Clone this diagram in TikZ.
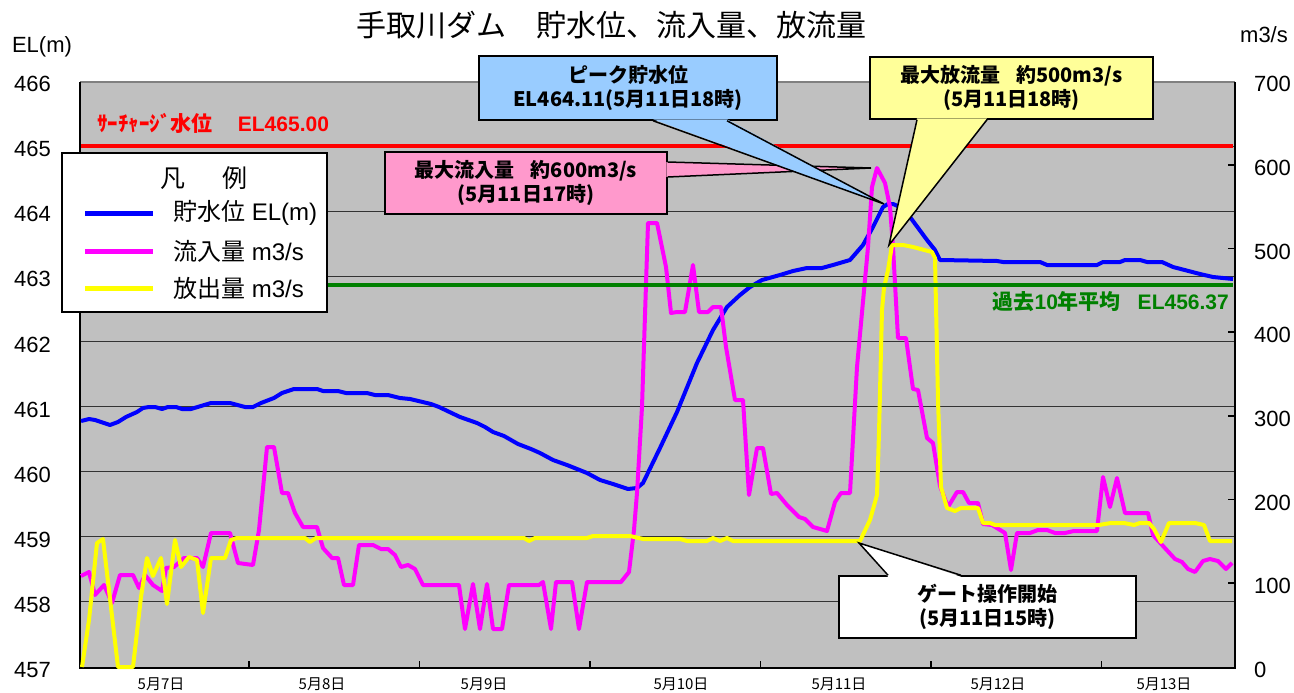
\documentclass[tikz,border=0pt]{standalone}
\usepackage{fontspec}
\setmainfont{Liberation Sans}
\newfontfamily\jp{Noto Sans CJK JP}
\usetikzlibrary{positioning,calc}

\definecolor{plotgray}{HTML}{C0C0C0}
\definecolor{levelblue}{HTML}{0000FF}
\definecolor{inflowpink}{HTML}{FF00FF}
\definecolor{outflowyellow}{HTML}{FFFF00}
\definecolor{avggreen}{HTML}{008000}
\definecolor{calloutblue}{HTML}{99CCFF}
\definecolor{calloutpink}{HTML}{FF99CC}
\definecolor{calloutyellow}{HTML}{FFFF99}

\begin{document}
\begin{tikzpicture}[x=1pt, y=-1pt,
    gridline/.style={black!80, line width=1pt},
    axisline/.style={black, line width=1.8pt},
    series/.style={line width=4pt, line join=round},
    ticklabel/.style={font=\fontsize{22}{26}\selectfont, inner sep=0pt},
    datelabel/.style={font=\jp\fontsize{15}{18}\selectfont, inner sep=0pt},
    callbox/.style={rectangle, draw, line width=1.5pt, align=center, inner sep=0pt,
        font=\jp\bfseries\fontsize{20}{24}\selectfont},
    pointer/.style={line width=1.5pt, line join=miter},
    lgtext/.style={font=\fontsize{24}{28}\selectfont, inner sep=0pt}
]
    \useasboundingbox (0,0) rectangle (1294,693);

    % Plot area
    \fill[plotgray] (80,82) rectangle (1235,667);
    \foreach \v in {458,...,465}
        \draw[gridline] (80,{667-(\v-457)*65.11}) -- (1235,{667-(\v-457)*65.11});
    \draw[gray, line width=1.5pt] (80,82) -- (1235,82);
    \draw[axisline] (80,82) -- (80,668) -- (1235,668) -- (1235,82);
    \foreach \x in {249,419.5,590,760.5,931,1101.5}
        \draw[axisline] (\x,668) -- (\x,661);
    \foreach \q in {100,200,...,600}
        \draw[axisline] (1235,{667-\q*0.8371}) -- (1228,{667-\q*0.8371});

    % Axis labels
    \node[ticklabel] (elunit) at (42,47) {EL(m)};
    \node[ticklabel] (qunit) at (1264,35) {m3/s};
    \foreach \v in {457,...,466}
        \node[ticklabel, anchor=east] (el\v) at (51,{670-(\v-457)*65.11}) {\v};
    \foreach \q in {0,100,...,700}
        \node[ticklabel, anchor=west] (q\q) at (1254,{670-\q*0.8371}) {\q};
    \foreach \x/\d in {161/7,322/8,484/9,681/10,839/11,998/12,1164/13}
        \node[datelabel] (day\d) at (\x,684) {5月\d{}日};

    % Title
    \node[anchor=west, inner sep=0pt, font=\jp\fontsize{30}{35}\selectfont] (title) at (356,25)
        {手取川ダム\hspace{1em}貯水位、流入量、放流量};

    % Reservoir level
    \draw[series, levelblue] plot coordinates {(81,421) (89,419) (95,420) (110,425) (118,422)
        (126,417) (137,412) (143,408) (149,407) (155,407) (162,409) (168,407) (176,407)
        (182,409) (191,409) (201,406) (211,403) (230,403) (245,407) (253,407) (261,403)
        (274,398) (282,393) (294,389) (317,389) (323,391) (338,391) (346,393) (367,393)
        (375,395) (388,395) (400,398) (410,399) (431,404) (439,407) (460,417) (477,423)
        (485,427) (493,432) (504,436) (518,444) (531,449) (540,453) (553,460) (567,465)
        (587,473) (600,480) (613,484) (628,489) (637,488) (643,483) (660,448) (677,412)
        (697,363) (713,330) (727,307) (740,295) (750,287) (762,280) (780,275) (793,271)
        (807,268) (822,268) (833,265) (850,260) (863,245) (873,227) (883,207) (888,204)
        (893,204) (900,207) (910,217) (927,240) (935,250) (940,260) (997,261) (1003,262)
        (1040,262) (1047,265) (1097,265) (1103,262) (1120,262) (1125,260) (1140,260)
        (1147,262) (1162,262) (1173,267) (1200,274) (1213,277) (1223,278) (1233,279)};

    % Inflow
    \draw[series, inflowpink] plot coordinates {(81,576) (89,572) (95,595) (104,585) (112,603)
        (120,575) (133,575) (139,588) (145,575) (153,585) (162,591) (166,568) (174,567)
        (184,558) (197,558) (203,567) (211,533) (230,533) (238,563) (253,565) (259,530)
        (267,447) (274,447) (282,493) (288,493) (295,513) (303,527) (317,527) (323,548)
        (332,558) (338,558) (344,585) (353,585) (359,545) (373,545) (381,549) (388,549)
        (395,555) (401,567) (408,565) (415,569) (423,585) (459,585) (465,629) (473,584)
        (480,629) (487,584) (493,629) (502,629) (509,585) (539,585) (543,582) (551,629)
        (556,582) (572,582) (579,629) (587,582) (621,582) (629,572) (634,530) (637,493)
        (642,407) (648,223) (657,223) (666,267) (671,313) (677,312) (685,312) (693,265)
        (699,312) (708,312) (713,307) (721,307) (726,347) (735,400) (743,400) (749,495)
        (757,448) (763,448) (771,494) (777,493) (787,505) (799,517) (805,519) (813,527)
        (827,531) (835,502) (841,493) (850,493) (857,367) (868,247) (872,187) (877,168)
        (885,183) (890,207) (893,247) (898,338) (906,338) (913,389) (918,390) (927,438)
        (933,443) (940,486) (948,507) (957,492) (963,492) (969,503) (978,503) (983,524)
        (992,525) (1005,533) (1011,570) (1017,533) (1030,533) (1038,530) (1047,530)
        (1055,533) (1065,533) (1074,531) (1097,531) (1103,477) (1110,507) (1117,478)
        (1125,513) (1148,513) (1153,535) (1163,546) (1175,559) (1182,562) (1188,569)
        (1195,572) (1203,561) (1210,559) (1218,561) (1226,569) (1232,563)};

    % Outflow
    \draw[series, outflowyellow] plot coordinates {(82,667) (89,620) (97,543) (103,539)
        (118,667) (133,667) (141,597) (147,558) (153,576) (161,558) (167,604) (175,540)
        (181,567) (189,557) (197,560) (203,613) (211,558) (225,558) (231,540) (237,538)
        (305,538) (310,542) (316,538) (524,538) (529,541) (535,538) (587,538) (593,536)
        (630,536) (643,539) (680,539) (687,541) (707,541) (713,538) (720,541) (727,538)
        (733,541) (860,541) (870,520) (877,495) (879,433) (882,310) (884,288) (888,270)
        (892,245) (903,245) (913,247) (932,252) (935,258) (938,400) (941,487) (947,508)
        (955,511) (961,508) (978,508) (983,523) (990,523) (995,525) (1099,525) (1111,523)
        (1124,523) (1134,525) (1140,523) (1149,523) (1154,529) (1161,542) (1169,523)
        (1195,523) (1204,525) (1210,541) (1232,541)};

    % Reference levels
    \draw[series, red] (81,146) -- (1233,146);
    \draw[series, avggreen] (81,285) -- (1233,285);
    \node[anchor=west, inner sep=0pt, text=red, font=\bfseries\fontsize{21}{25}\selectfont] (surcharge) at (97,123)
        {{\jp ｻｰﾁｬｰｼﾞ水位}\hspace{1.2em}EL465.00};
    \node[anchor=east, inner sep=0pt, text=avggreen, font=\bfseries\fontsize{21}{25}\selectfont] (average) at (1229,302)
        {{\jp 過去}10{\jp 年平均}\hspace{0.8em}EL456.37};

    % Callouts
    \node[callbox, fill=calloutpink, minimum width=282pt, minimum height=62pt] (maxin) at (526,183)
        {最大流入量\hspace{0.8em}約600m3/s\\(5月11日17時)};
    \coordinate (maxintip) at (871,168);
    \fill[calloutpink] ([xshift=-1.5pt,yshift=21pt]maxin.east) -- (maxintip) -- ([xshift=-1.5pt,yshift=6pt]maxin.east) -- cycle;
    \draw[pointer] ([yshift=21pt]maxin.east) -- (maxintip) -- ([yshift=6pt]maxin.east);

    \node[callbox, fill=calloutblue, minimum width=298pt, minimum height=64pt] (peak) at (628,88)
        {ピーク貯水位\\EL464.11(5月11日18時)};
    \coordinate (peaktip) at (884,204);
    \fill[calloutblue] ([xshift=25pt,yshift=1.5pt]peak.south) -- (peaktip) -- ([xshift=99pt,yshift=1.5pt]peak.south) -- cycle;
    \draw[pointer] ([xshift=25pt]peak.south) -- (peaktip) -- ([xshift=99pt]peak.south);

    \node[callbox, fill=calloutyellow, minimum width=283pt, minimum height=62pt] (maxout) at (1011.5,88)
        {最大放流量\hspace{0.8em}約500m3/s\\(5月11日18時)};
    \coordinate (maxouttip) at (889,245);
    \fill[calloutyellow] ([xshift=-94.5pt,yshift=1.5pt]maxout.south) -- (maxouttip) -- ([xshift=-24.5pt,yshift=1.5pt]maxout.south) -- cycle;
    \draw[pointer] ([xshift=-94.5pt]maxout.south) -- (maxouttip) -- ([xshift=-24.5pt]maxout.south);

    \node[callbox, fill=white, minimum width=297pt, minimum height=62pt] (gate) at (987.5,607)
        {ゲート操作開始\\(5月11日15時)};
    \coordinate (gatetip) at (859,543);
    \fill[white] ([xshift=-99.5pt,yshift=-1.5pt]gate.north) -- (gatetip) -- ([xshift=-26.5pt,yshift=-1.5pt]gate.north) -- cycle;
    \draw[pointer] ([xshift=-99.5pt]gate.north) -- (gatetip) -- ([xshift=-26.5pt]gate.north);

    % Legend
    \node[draw, fill=white, line width=1.5pt, minimum width=265pt, minimum height=159pt] (lgd) at (194.5,232.5) {};
    \node[inner sep=0pt, font=\jp\fontsize{25}{30}\selectfont] (lgdtitle) at (204,178) {凡\hspace{1.5em}例};
    \foreach \y/\c/\t [count=\i] in {213/levelblue/{{\jp 貯水位} EL(m)},
                                     251/inflowpink/{{\jp 流入量} m3/s},
                                     288/outflowyellow/{{\jp 放出量} m3/s}} {
        \coordinate (ls\i) at (85,\y);
        \coordinate (le\i) at (153,\y);
        \draw[\c, line width=5pt] (ls\i) -- (le\i);
        \node[lgtext, right=20pt of le\i] (lg\i) {\t};
    }
\end{tikzpicture}
\end{document}
